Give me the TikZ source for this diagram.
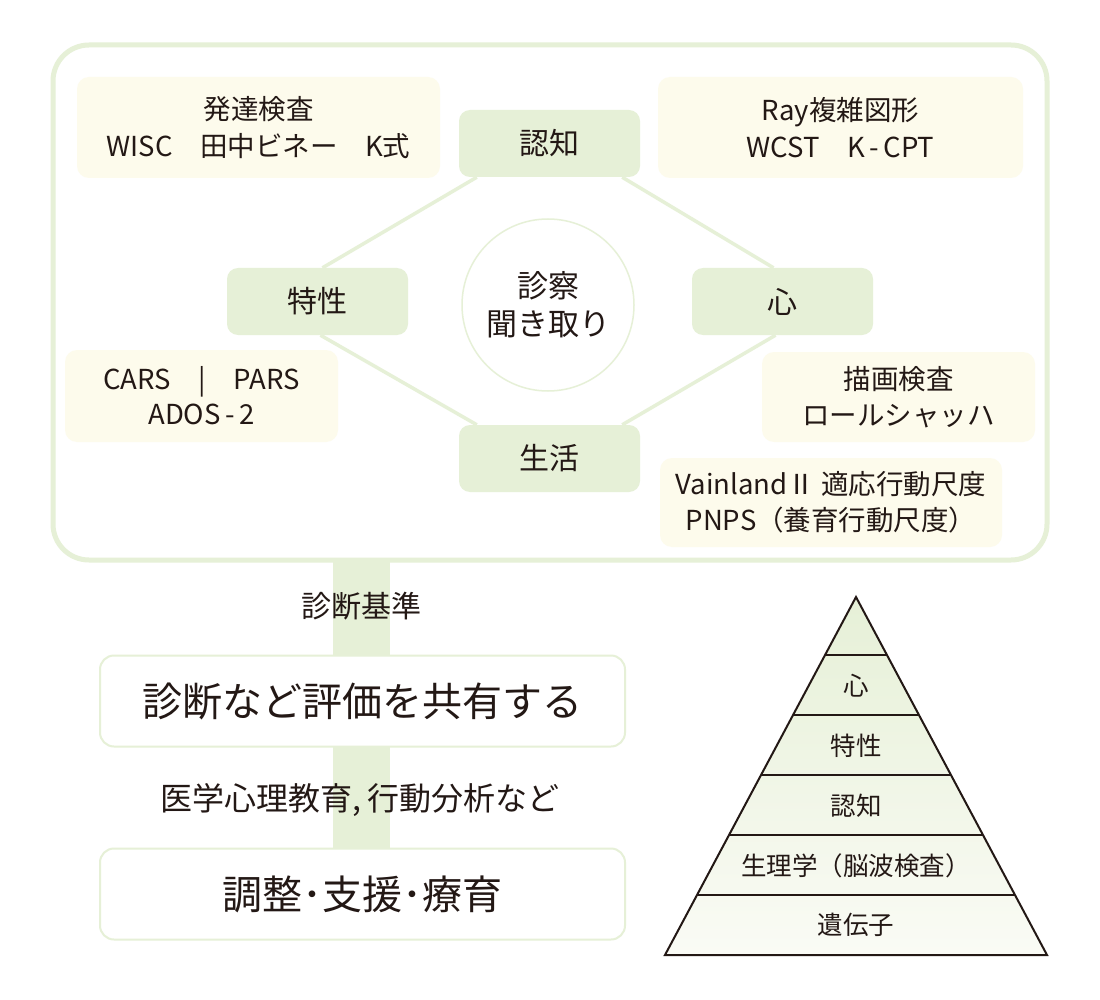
\documentclass[tikz,border=0pt]{standalone}
\usepackage{fontspec}
\setmainfont{Noto Sans CJK JP}
\usetikzlibrary{backgrounds,calc}
\definecolor{lgreen}{HTML}{E6F0D7}
\definecolor{cream}{HTML}{FDFBEC}
\definecolor{ink}{HTML}{231815}
\definecolor{pale}{HTML}{FAFBF5}
\begin{document}
\begin{tikzpicture}[x=1pt,y=-1pt,
  every node/.style={text=ink, inner sep=0pt, align=center},
  infobox/.style={fill=cream, rounded corners=12pt, font=\fontsize{27.5}{37}\selectfont},
  catbox/.style={fill=lgreen, rounded corners=11pt, minimum width=181pt, minimum height=67pt, font=\fontsize{30}{36}\selectfont},
  mainbox/.style={draw=lgreen, line width=2pt, fill=white, rounded corners=14pt, minimum width=525pt, minimum height=91pt},
  octline/.style={draw=lgreen, line width=3.5pt},
  strip/.style={draw=lgreen, line width=57pt},
  label/.style={font=\fontsize{30}{34}\selectfont},
  pyr/.style={font=\fontsize{25.5}{28}\selectfont}
]
\useasboundingbox (0,0) rectangle (1100,1000);

% outer frame
\node[draw=lgreen, line width=5pt, rounded corners=36pt, minimum width=994pt, minimum height=515pt] (frame) at (550,302.5) {};

% category boxes
\node[catbox] (ninchi) at (549.5,143.5) {認知};
\node[catbox] (tokusei) at (317.5,301.5) {特性};
\node[catbox] (kokoro) at (782.5,301.5) {心};
\node[catbox] (seikatsu) at (549.5,458.5) {生活};

% center circle
\node[circle, draw=lgreen, line width=1.5pt, minimum size=172pt, font=\fontsize{31}{38}\selectfont] (shinsatsu) at (548,305) {診察\\聞き取り};

% info boxes
\node[infobox, minimum width=363pt, minimum height=101pt] (hattatsu) at (258.5,127.5) {発達検査\\WISC　田中ビネー　K式};
\node[infobox, minimum width=365pt, minimum height=101pt] (ray) at (840.5,127.5) {Ray複雑図形\\WCST　K\,-\,CPT};
\node[infobox, minimum width=273pt, minimum height=92pt, font=\fontsize{27.5}{35}\selectfont] (cars) at (201.5,396) {CARS　|　PARS\\ADOS\,-\,2};
\node[infobox, minimum width=273pt, minimum height=90pt, font=\fontsize{27.5}{36}\selectfont] (byoga) at (898.5,397) {描画検査\\ロールシャッハ};
\node[infobox, minimum width=342pt, minimum height=89pt, font=\fontsize{27.5}{36}\selectfont] (vain) at (831,502.5) {VainlandⅡ 適応行動尺度\\PNPS（養育行動尺度）};

% main boxes
\node[mainbox, font=\fontsize{40}{44}\selectfont] (share) at (362.5,701) {診断など評価を共有する};
\node[mainbox, font=\fontsize{40}{44}\selectfont] (adjust) at (362.5,894) {調整･支援･療育};

% labels on strip
\node[label] (kijun) at (361,606) {診断基準};
\node[label, font=\fontsize{32}{36}\selectfont] (kyoiku) at (360,800) {医学心理教育,\,行動分析など};

\coordinate (striptop) at (361.5,559);

\begin{scope}[on background layer]
  \fill[white] (0,0) rectangle (1100,1000);
  \draw[octline] ($(ninchi.south west)+(18,0)$) -- ($(tokusei.north)+(5,0)$);
  \draw[octline] ($(ninchi.south east)+(-18,0)$) -- ($(kokoro.north)+(-9,0)$);
  \draw[octline] ($(tokusei.south)+(3,0)$) -- ($(seikatsu.north west)+(18,0)$);
  \draw[octline] ($(kokoro.south)+(-7,0)$) -- ($(seikatsu.north east)+(-18,0)$);
  \draw[strip] (striptop) -- (striptop |- share.center);
  \draw[strip] (striptop |- share.center) -- (striptop |- adjust.center);
\end{scope}

% pyramid
\coordinate (apex) at (856,597);
\coordinate (bl) at (665,955);
\coordinate (br) at (1047,955);
\shade[top color=lgreen, bottom color=pale] (apex) -- (br) -- (bl) -- cycle;
\foreach \yy/\hw in {655/30.9, 715/63.0, 775/95.0, 835/127.0, 895/159.0}{
  \draw[ink, line width=1.6pt] (856-\hw,\yy) -- (856+\hw,\yy);
}
\draw[ink, line width=2pt, line join=miter] (apex) -- (br) -- (bl) -- cycle;
\node[pyr] (p1) at (856,686) {心};
\node[pyr] (p2) at (856,746) {特性};
\node[pyr] (p3) at (856,806) {認知};
\node[pyr] (p4) at (856,866) {生理学（脳波検査）};
\node[pyr] (p5) at (856,925) {遺伝子};
\end{tikzpicture}
\end{document}
